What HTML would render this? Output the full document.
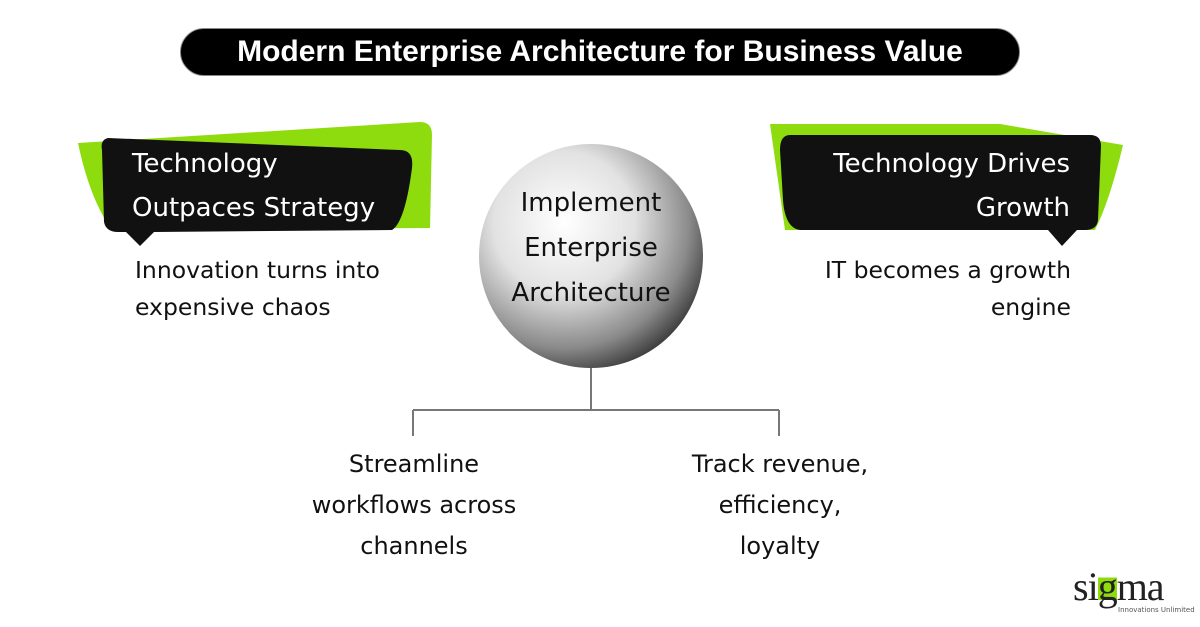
<!DOCTYPE html>
<html><head><style>
body{margin:0;width:1200px;height:627px;background:#fff;position:relative;overflow:hidden;font-family:"DejaVu Sans","Liberation Sans",sans-serif}
.t{position:absolute;color:#111;font-size:23.5px;line-height:37px;white-space:nowrap}
.w{position:absolute;color:#fff;font-size:26px;line-height:44px;white-space:nowrap}
</style></head><body>
<div style="position:absolute;left:180px;top:28px;width:840px;height:48px;background:#000;border-radius:24px;border:1px solid #888;box-sizing:border-box"></div>
<div style="position:absolute;left:180px;top:28px;width:840px;height:48px;line-height:48px;text-align:center;color:#fff;font-family:'Liberation Sans',sans-serif;font-weight:bold;font-size:30px">Modern Enterprise Architecture for Business Value</div>
<svg width="1200" height="627" style="position:absolute;left:0;top:0">
<defs><radialGradient id="g" cx="0.38" cy="0.35" r="0.7"><stop offset="0" stop-color="#fff"/><stop offset="0.45" stop-color="#e2e2e2"/><stop offset="0.8" stop-color="#8a8a8a"/><stop offset="1" stop-color="#3a3a3a"/></radialGradient></defs>
<path d="M78 143 L420 122 Q432 122 432 135 L430 228 L112 230 Q90 200 78 143Z" fill="#8fdc0e"/>
<path d="M108 138 Q100 140 102 150 L104 222 Q106 232 118 232 L126 232 L140 246 L154 232 L392 230 Q405 222 412 168 Q414 150 400 150 Z" fill="#111"/>
<path d="M770 124 L1000 124 L1123 145 Q1110 200 1095 230 L785 230 Z" fill="#8fdc0e"/>
<path d="M790 135 L1090 135 Q1101 135 1101 146 L1098 220 Q1097 230 1085 230 L1077 230 L1062 246 L1048 230 L800 230 Q785 228 783 200 L780 150 Q780 135 790 135Z" fill="#111"/>
<circle cx="591" cy="256" r="112" fill="url(#g)"/>
<path d="M591 368 V410 M413 410 H779 M413 410 V436 M779 410 V436" stroke="#777" stroke-width="2" fill="none"/>
</svg>
<div class="w" style="left:132px;top:142px">Technology<br>Outpaces Strategy</div>
<div class="w" style="left:770px;top:142px;width:300px;text-align:right">Technology Drives<br>Growth</div>
<div class="t" style="left:135px;top:252px">Innovation turns into<br>expensive chaos</div>
<div class="t" style="left:771px;top:252px;width:300px;text-align:right">IT becomes a growth<br>engine</div>
<div class="t" style="left:460px;top:181px;width:262px;text-align:center;font-size:26px;line-height:45px;font-weight:500">Implement<br>Enterprise<br>Architecture</div>
<div class="t" style="left:284px;top:444px;width:260px;text-align:center;line-height:41px;font-size:24px">Streamline<br>workflows across<br>channels</div>
<div class="t" style="left:655px;top:444px;width:250px;text-align:center;line-height:41px;font-size:24px">Track revenue,<br>efficiency,<br>loyalty</div>
<div style="position:absolute;left:1073px;top:565px;font-family:'Liberation Serif',serif;font-size:40px;color:#222;letter-spacing:-1px;line-height:44px">si<span style="color:#222;background:linear-gradient(#fff 0 30%,#8fdc0e 30% 80%,#fff 80%)">g</span>ma</div>
<div style="position:absolute;left:1118px;top:606px;font-size:7px;color:#555">Innovations Unlimited</div>
</body></html>
